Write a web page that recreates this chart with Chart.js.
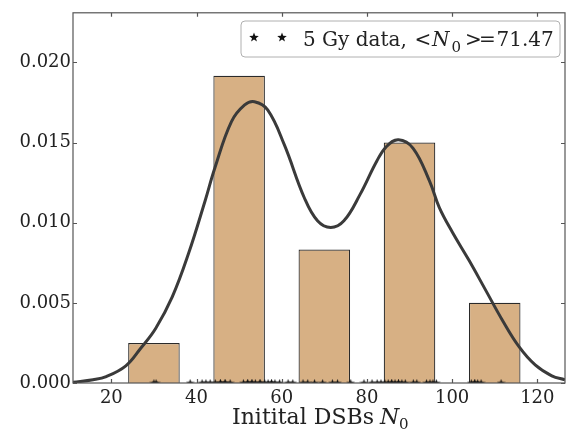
<!DOCTYPE html>
<html>
<head>
<meta charset="utf-8">
<script src="https://cdn.jsdelivr.net/npm/chart.js@4/dist/chart.umd.min.js"></script>
<style>
  body { margin: 0; background: #fff; }
  canvas { display: block; }
</style>
</head>
<body>
<canvas id="chart" width="570" height="433"></canvas>
<script>
// histogram: bin centres (bins of 20, bars 60% wide) and density heights
const binCenters = [30, 50, 70, 90, 110];
const binDensity = [0.0025, 0.01917, 0.00833, 0.015, 0.005];

// KDE curve
const kdeX = [11, 15.7, 18.8, 23.4, 26.9, 30.4, 34.3, 38.1, 42, 44.3, 48.2, 51.3, 53.6, 56.7, 60.6,
              65.3, 68.4, 71.5, 74.6, 78.4, 82.3, 84.6, 87.4, 90.8, 94.7, 97, 100.1, 104, 107.9,
              111.8, 115.7, 119.5, 123.4, 126.5];
const kdeY = [0.00004, 0.0002, 0.0004, 0.00107, 0.00217, 0.0034, 0.00537, 0.00806, 0.01136, 0.01342,
              0.01631, 0.01735, 0.01755, 0.01704, 0.01487, 0.01156, 0.01012, 0.0097, 0.01012, 0.01177,
              0.01384, 0.01476, 0.01518, 0.01466, 0.0126, 0.01094, 0.00939, 0.00764, 0.00578, 0.00392,
              0.00227, 0.00113, 0.00045, 0.0002];

// individual DSB counts shown as stars on the axis
const dsbCounts = [30, 30.5, 38.5,
  41.3, 42.2, 43.2, 44.4, 45.6, 45.6, 46.7, 46.7, 47.9, 51, 52, 52, 53, 53, 53.8, 54.9, 54.9,
  56, 56.8, 57.6, 57.6, 58.4, 59.5,
  61.5, 62.6, 65, 66.1, 67.7, 69.6, 71.9, 73.1, 76.2, 79.3,
  81.2, 82.4, 83.3, 84.2, 85, 85.8, 85.8, 86.6, 87.4, 87.4, 88.2, 89, 90.9, 91.7, 94, 94.8, 95.5, 96.3,
  104.5, 105.3, 105.3, 106, 106.8, 111.5];

const xTicks = [20, 40, 60, 80, 100, 120];
const yTicks = [0, 0.005, 0.010, 0.015, 0.020];

const legendLabel = '5 Gy data,';
const meanN0 = '71.47';
const xTitle = 'Initital DSBs';

const SERIF = '"DejaVu Serif", serif';

// filled five-point star like matplotlib's '*'
function makeStar(size) {
  const c = document.createElement('canvas');
  c.width = c.height = size;
  const g = c.getContext('2d');
  const R = size / 2, r = R * 0.42;
  g.beginPath();
  for (let i = 0; i < 10; i++) {
    const ang = -Math.PI / 2 + i * Math.PI / 5;
    const rad = i % 2 ? r : R;
    const px = R + rad * Math.cos(ang), py = R + rad * Math.sin(ang) + size * 0.05;
    if (i === 0) g.moveTo(px, py); else g.lineTo(px, py);
  }
  g.closePath();
  g.fillStyle = '#111';
  g.fill();
  return c;
}
const rugStar = makeStar(9);
const legendStar = makeStar(10);

// spines, inward ticks, legend box and x title
const frame = {
  id: 'frame',
  afterDatasetsDraw(chart) {
    const { ctx, chartArea: a, scales: { x, y } } = chart;
    ctx.save();
    ctx.strokeStyle = '#555';
    ctx.lineWidth = 1.2;
    ctx.beginPath();
    x.ticks.forEach(t => {
      const px = Math.round(x.getPixelForValue(t.value)) + 0.5;
      ctx.moveTo(px, a.bottom); ctx.lineTo(px, a.bottom - 4);
      ctx.moveTo(px, a.top); ctx.lineTo(px, a.top + 4);
    });
    y.ticks.forEach(t => {
      const py = Math.round(y.getPixelForValue(t.value)) + 0.5;
      ctx.moveTo(a.left, py); ctx.lineTo(a.left + 4, py);
      ctx.moveTo(a.right, py); ctx.lineTo(a.right - 4, py);
    });
    ctx.stroke();
    ctx.strokeRect(a.left, a.top, a.right - a.left, a.bottom - a.top);

    // legend
    ctx.beginPath();
    ctx.roundRect(241, 21, 319, 36, 4);
    ctx.fillStyle = 'rgba(255,255,255,0.85)';
    ctx.fill();
    ctx.strokeStyle = '#b0b0b0';
    ctx.lineWidth = 1;
    ctx.stroke();
    ctx.drawImage(legendStar, 254 - 5, 37 - 5);
    ctx.drawImage(legendStar, 282 - 5, 37 - 5);

    ctx.fillStyle = '#222';
    ctx.textAlign = 'left';
    ctx.textBaseline = 'alphabetic';
    const base = 46;
    ctx.font = '20px ' + SERIF;
    ctx.fillText(legendLabel, 303, base);
    ctx.fillText('<', 414.5, base);
    ctx.font = 'italic 20px ' + SERIF;
    ctx.fillText('N', 432, base);
    ctx.font = '15px ' + SERIF;
    ctx.fillText('0', 451.5, base + 6);
    ctx.font = '20px ' + SERIF;
    ctx.fillText('>', 465, base);
    ctx.fillText('=', 479, base);
    ctx.fillText(meanN0, 496.5, base);

    // x axis title
    const sb = 424;
    ctx.font = '22px ' + SERIF;
    ctx.fillText(xTitle, 232, sb);
    ctx.font = 'italic 22px ' + SERIF;
    ctx.fillText('N', 380, sb);
    ctx.font = '15px ' + SERIF;
    ctx.fillText('0', 399, sb + 5);
    ctx.restore();
  }
};

const ctx = document.getElementById('chart').getContext('2d');
new Chart(ctx, {
  type: 'bar',
  data: {
    datasets: [
      {
        type: 'line',
        data: kdeX.map((v, i) => ({ x: v, y: kdeY[i] })),
        borderColor: '#3a3a3a',
        borderWidth: 3,
        pointRadius: 0,
        tension: 0.4,
        clip: 0,
        order: 0
      },
      {
        type: 'scatter',
        data: dsbCounts.map(v => ({ x: v, y: 0 })),
        pointStyle: rugStar,
        clip: 0,
        order: 1
      },
      {
        type: 'bar',
        data: binCenters.map((v, i) => ({ x: v, y: binDensity[i] })),
        backgroundColor: '#d7b084',
        borderColor: '#2a2a2a',
        borderWidth: 1.2,
        barPercentage: 0.605,
        categoryPercentage: 1,
        order: 2
      }
    ]
  },
  options: {
    responsive: false,
    devicePixelRatio: 1,
    animation: false,
    layout: { padding: { top: 11, right: 1, left: 0, bottom: 0 } },
    plugins: { legend: { display: false }, tooltip: { enabled: false } },
    scales: {
      x: {
        type: 'linear',
        min: 11,
        max: 126.5,
        offset: false,
        grid: { display: false, drawTicks: false },
        border: { display: false },
        afterBuildTicks: s => { s.ticks = xTicks.map(v => ({ value: v })); },
        afterFit: s => { s.height = 50; },
        ticks: { font: { family: SERIF, size: 18 }, color: '#222', padding: 5, maxRotation: 0 }
      },
      y: {
        type: 'linear',
        min: 0,
        max: 0.0231,
        grid: { display: false, drawTicks: false },
        border: { display: false },
        afterBuildTicks: s => { s.ticks = yTicks.map(v => ({ value: v })); },
        afterFit: s => { s.width = 73; },
        ticks: {
          font: { family: SERIF, size: 18 },
          color: '#222',
          padding: 2,
          callback: v => v.toFixed(3)
        }
      }
    }
  },
  plugins: [frame]
});
</script>
</body>
</html>
